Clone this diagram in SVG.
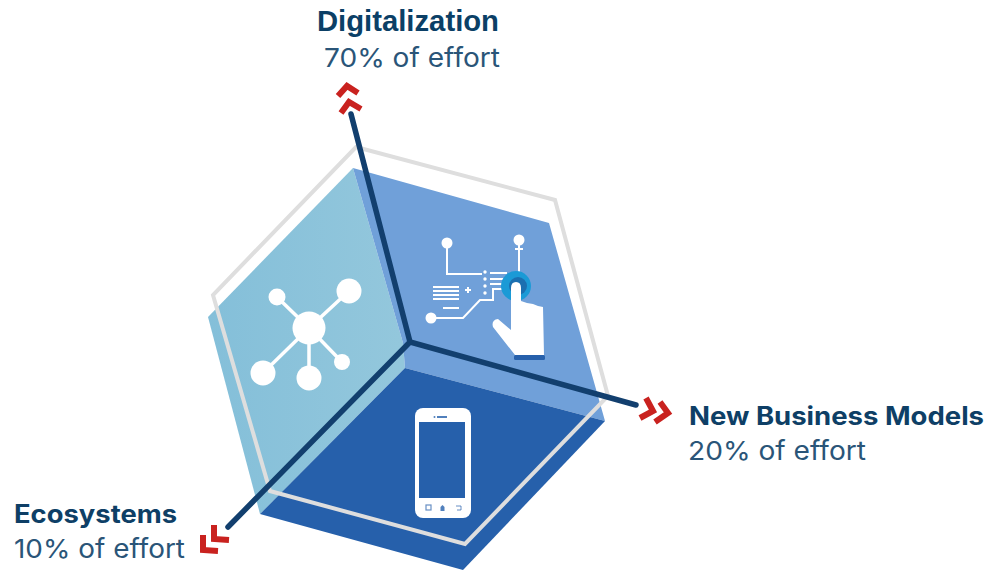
<svg xmlns="http://www.w3.org/2000/svg" width="990" height="572" viewBox="0 0 990 572">
<style>
.b{font-weight:700;font-size:25px;font-family:"Inter","Liberation Sans",sans-serif;fill:#0e3f66}
.r{font-size:26px;font-family:"Inter","Liberation Sans",sans-serif;fill:#2a5578}
.ax{stroke:#123f6e;stroke-width:5.5;stroke-linecap:round;fill:none}
.ch{stroke:#c9221f;stroke-width:6;fill:none}
.w{fill:#fff}
.wl{stroke:#fff;stroke-width:2;fill:none}
</style>
<defs>
<linearGradient id="lb" gradientUnits="userSpaceOnUse" x1="208" y1="340" x2="400" y2="340">
<stop offset="0" stop-color="#84bfd9"/><stop offset="1" stop-color="#93c7dc"/>
</linearGradient>
</defs>
<rect width="990" height="572" fill="#fff"/>
<g id="cube">
<polygon points="353,168 208,317 260,514 405,368 403,343" fill="url(#lb)"/>
<polygon points="353,168 549,223 605,421 405,368 403,343" fill="#70a0d9"/>
<polygon points="405,368 605,421 463,570 260,514" fill="#2660ab"/>
<polygon points="356,147 555,200 608,396 465,544 270,491 213,295" fill="none" stroke="#dedede" stroke-width="4"/>
</g>
<g id="connectors">
<path class="ax" d="M351,114 L410,342 L636,405"/>
<path class="ax" d="M410,342 L228,527"/>
<path class="ch" d="M338,96 L347,86 L358,93"/>
<path class="ch" d="M341,113 L349,102 L361,109"/>
<path class="ch" d="M646,398 L653,411 L640,418"/>
<path class="ch" d="M660,402 L668,413 L655,422"/>
<path class="ch" d="M203,535 L203,550 L218,551"/>
<path class="ch" d="M214,525 L214,539 L229,540"/>
</g>
<g id="digitalization-icon">
<g class="wl">
<path d="M447,243 V274 H482"/><path d="M519,240 V272"/><path d="M515,249 H523"/>
<path d="M433,287 H459 M433,291 H459 M433,295 H459 M433,299 H459 M443,308 H459"/>
<path d="M431,318 H463 L480,300 H493 V289 H505"/>
<path d="M490,273 H507 M490,279 H506 M490,284 H502"/>
<path d="M465,290 H471 M468,287 V293"/>
</g>
<circle class="w" cx="447" cy="243" r="5.5"/><circle class="w" cx="519" cy="240" r="5.5"/><circle class="w" cx="431" cy="318" r="5.5"/>
<circle class="w" cx="485" cy="272" r="1.7"/><circle class="w" cx="485" cy="279" r="1.7"/><circle class="w" cx="485" cy="286" r="1.7"/><circle class="w" cx="485" cy="293" r="1.7"/>
<circle cx="516" cy="286" r="15" fill="#1b9ad6"/><circle cx="518" cy="286" r="9" fill="#1b6fb0"/>
<path class="w" d="M511,288 Q511,282 516,282 Q521,282 521,288 V301 L527,303 L533,304 L538,306 L543,307 L544,355 H515 L493,327 Q491,320 498,319 L511,330 Z"/>
<rect x="514" y="355" width="31" height="5" rx="1.5" fill="#2660ab"/>
</g>
<g id="phone-icon">
<rect x="415" y="408" width="56" height="110" rx="8" class="w"/>
<rect x="419" y="422" width="46" height="76" fill="#2660ab"/>
<rect x="437" y="416" width="10" height="2" fill="#2660ab" opacity=".8"/>
<circle cx="434.500" cy="417" r="1" fill="#2660ab" opacity=".8"/>
<rect x="426" y="505" width="5" height="5" fill="none" stroke="#2660ab" stroke-width="1.2" opacity=".7"/>
<path d="M440.500,511 V507 L442.500,505 L444.500,507 V511 Z" fill="#2660ab" opacity=".8"/>
<path d="M456,506 H461 V510 H457" fill="none" stroke="#2660ab" stroke-width="1" opacity=".7"/>
</g>
<g id="network-icon" fill="#fff">
<g stroke="#fff" stroke-width="3.500" fill="none">
<path d="M277,297 L309,328 L349,291 M309,328 L263,373 M309,328 V378 M309,328 L342,362"/>
</g>
<circle cx="309" cy="328" r="16.500"/><circle cx="277" cy="297" r="8.500"/><circle cx="349" cy="291" r="12.500"/><circle cx="263" cy="373" r="12.500"/><circle cx="309" cy="378" r="12.500"/><circle cx="342" cy="362" r="8"/>
</g>
<g id="labels">
<text x="317" y="31" textLength="182" lengthAdjust="spacingAndGlyphs" style="font-family:'Liberation Sans',Arial,sans-serif;font-weight:700;font-size:29px;fill:#0b3f66">Digitalization</text>
<text x="324" y="67" class="r" textLength="176" lengthAdjust="spacingAndGlyphs">70% of effort</text>
<text x="689" y="425" class="b" textLength="295" lengthAdjust="spacingAndGlyphs">New Business Models</text>
<text x="688" y="460" class="r" textLength="178" lengthAdjust="spacingAndGlyphs">20% of effort</text>
<text x="14" y="523" class="b" textLength="163" lengthAdjust="spacingAndGlyphs">Ecosystems</text>
<text x="14" y="558" class="r" textLength="171" lengthAdjust="spacingAndGlyphs">10% of effort</text>
</g>
</svg>
